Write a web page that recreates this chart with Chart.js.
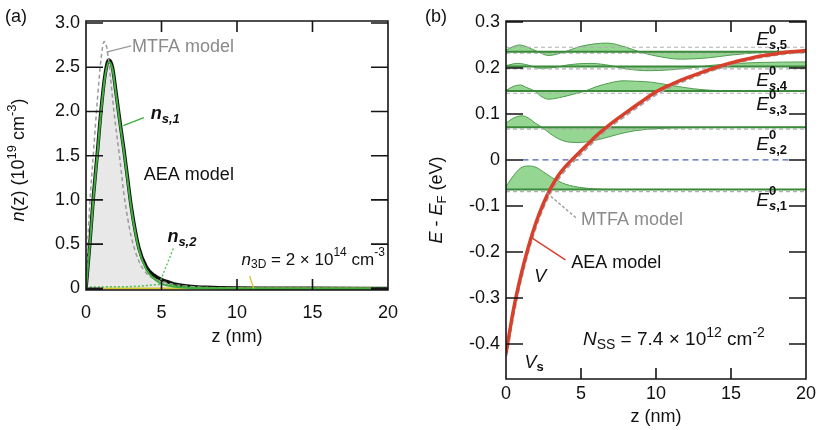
<!DOCTYPE html>
<html>
<head>
<meta charset="utf-8">
<script src="https://cdn.jsdelivr.net/npm/chart.js@4.4.1/dist/chart.umd.min.js"></script>
<style>
  html, body { margin: 0; padding: 0; background: #fff; }
  #wrap { position: relative; width: 820px; height: 430px; overflow: hidden; }
  canvas { position: absolute; top: 0; }
  #chartA { left: 0; }
  #chartB { left: 410px; }
</style>
</head>
<body>
<div id="wrap">
  <canvas id="chartA" width="410" height="430"></canvas>
  <canvas id="chartB" width="410" height="430"></canvas>
</div>
<script>
// ---- panel (a): electron density n(z), 10^19 cm^-3
const zA = [0, 0.25, 0.5, 0.75, 1, 1.25, 1.5, 1.75, 2, 2.25, 2.5, 2.75, 3, 3.5, 4, 4.5, 5, 5.5, 6, 7, 8, 10, 12, 15, 20];
const nAEA = [0, 0.5, 1.06, 1.53, 2.02, 2.4, 2.58, 2.5, 2.2, 1.88, 1.58, 1.25, 0.92, 0.46, 0.24, 0.15, 0.1, 0.07, 0.045, 0.022, 0.012, 0.004, 0.002, 0.001, 0];
const nS1 = [0, 0.49, 1.04, 1.51, 2.0, 2.38, 2.56, 2.48, 2.18, 1.86, 1.56, 1.23, 0.9, 0.44, 0.21, 0.11, 0.055, 0.03, 0.015, 0.005, 0.002, 0, 0, 0, 0];
const nS2 = [0, 0.012, 0.015, 0.015, 0.016, 0.017, 0.018, 0.018, 0.019, 0.019, 0.02, 0.02, 0.021, 0.025, 0.032, 0.04, 0.046, 0.042, 0.032, 0.017, 0.01, 0.003, 0.001, 0, 0];
const zMTFA = [0, 0.1, 0.25, 0.5, 0.75, 1, 1.2, 1.4, 1.6, 1.85, 2.25, 2.5, 2.75, 3, 3.5, 4, 4.5, 5, 6, 7, 8, 10, 12, 15, 20];
const nMTFA = [0, 0.45, 0.95, 1.55, 2.12, 2.6, 2.79, 2.7, 2.42, 2.0, 1.45, 1.08, 0.8, 0.58, 0.31, 0.17, 0.11, 0.08, 0.04, 0.02, 0.01, 0.004, 0.002, 0.001, 0];
const zN3D = [1.1, 18.9];
const n3D = [0.00002, 0.00002];   // 2e14 cm^-3 in units of 1e19
const xTicks = [0, 5, 10, 15, 20];
const yTicksA = [0, 0.5, 1.0, 1.5, 2.0, 2.5, 3.0];

// ---- panel (b): potential and subband levels, eV
const zV = [0, 0.5, 1, 1.5, 2, 2.5, 3, 3.5, 4, 4.5, 5, 5.5, 6, 7, 8, 9, 10, 11, 12, 13, 14, 15, 16, 17, 18, 19, 20];
const vAEA = [-0.42, -0.325, -0.25, -0.188, -0.136, -0.094, -0.06, -0.033, -0.013, 0.004, 0.02, 0.036, 0.052, 0.079, 0.103, 0.126, 0.148, 0.164, 0.178, 0.19, 0.201, 0.211, 0.219, 0.226, 0.231, 0.235, 0.238];
const vMTFA = [-0.426, -0.332, -0.257, -0.195, -0.143, -0.101, -0.067, -0.04, -0.019, -0.002, 0.014, 0.03, 0.046, 0.074, 0.098, 0.121, 0.143, 0.16, 0.174, 0.187, 0.198, 0.208, 0.217, 0.224, 0.229, 0.233, 0.236];
const levelsAEA = [-0.064, 0.071, 0.15, 0.203, 0.235];
const levelsMTFA = [-0.069, 0.067, 0.145, 0.198, 0.232, 0.245];
const fermiZ = [1.1, 18.9];
// wave functions, offset from their level
const zW1 = [0, 0.5, 1, 1.56, 2, 2.5, 3, 3.5, 4, 5, 6, 7, 20];
const w1 = [0.006, 0.03, 0.047, 0.051, 0.048, 0.038, 0.027, 0.018, 0.011, 0.004, 0.001, 0, 0];
const zW2 = [0, 0.5, 1.08, 1.5, 2, 2.4, 3, 3.5, 4, 4.8, 5.5, 6.5, 7.5, 8.5, 10, 12, 20];
const w2 = [0.009, 0.02, 0.025, 0.02, 0.008, 0, -0.015, -0.025, -0.031, -0.033, -0.031, -0.024, -0.015, -0.008, -0.003, -0.001, 0];
const zW3 = [0, 0.5, 0.95, 1.4, 1.9, 2.4, 2.86, 3.5, 4.5, 5.3, 6, 7, 7.8, 8.7, 9.7, 11, 12, 13, 14, 16, 20];
const w3 = [0.001, 0.01, 0.013, 0.007, 0, -0.013, -0.018, -0.015, -0.007, 0, 0.009, 0.018, 0.022, 0.021, 0.019, 0.012, 0.007, 0.003, 0.001, 0, 0];
const zW4 = [0, 0.8, 1.5, 2.3, 3.2, 4.2, 5.6, 7, 8, 9.5, 11, 12.5, 13.5, 15, 17, 20];
const w4 = [0.002, 0.007, 0.003, -0.004, -0.002, 0.004, 0.007, 0.002, -0.005, -0.009, -0.007, -0.002, 0.002, 0.006, 0.009, 0.01];
const zW5 = [0, 0.9, 1.8, 2.86, 3.9, 5, 6.75, 8, 8.9, 10, 11.7, 13.5, 15, 16.8, 18, 20];
const w5 = [0.004, 0.015, 0.005, -0.008, 0, 0.012, 0.019, 0.01, 0, -0.009, -0.016, -0.013, -0.007, -0.002, 0, 0];
const yTicksB = [-0.4, -0.3, -0.2, -0.1, 0, 0.1, 0.2, 0.3];

const FONT = "'Liberation Sans', Arial, Helvetica, sans-serif";
const FS = 18;
const INK = '#151515';
const pts = (xs, ys) => xs.map((x, i) => ({ x: x, y: ys[i] }));

function fontOf(p) { return (p.st || '') + ' ' + (p.sz || FS) + 'px ' + FONT; }
function richWidth(ctx, parts) {
  let w = 0;
  parts.forEach(p => { ctx.font = fontOf(p); if (!p.w0) w += ctx.measureText(p.t).width; });
  return w;
}
function drawRich(ctx, x, y, parts, color) {
  ctx.textBaseline = 'middle';
  ctx.textAlign = 'left';
  let cx = x;
  parts.forEach(p => {
    ctx.font = fontOf(p);
    ctx.fillStyle = p.c || color;
    ctx.fillText(p.t, cx, y + (p.dy || 0));
    if (!p.w0) cx += ctx.measureText(p.t).width;
  });
}
const sub = (t, st, sz) => ({ t: t, sz: sz || 13, dy: 5, st: st || '' });
const sup = (t, st, sz) => ({ t: t, sz: sz || 13, dy: -7, st: st || '' });
const eLabel = k => [{ t: 'E', st: 'italic', sz: 19 }, { t: '0', st: 'bold', sz: 13, dy: -9, w0: true },
  { t: 's', st: 'italic bold', sz: 13, dy: 6 }, { t: ',' + k, st: 'bold', sz: 13, dy: 6 }];

// box round the plot area with inward ticks on all four sides
function boxPlugin(cfg) {
  return {
    id: 'box',
    afterDatasetsDraw(chart) {
      const ctx = chart.ctx, sx = chart.scales.x, sy = chart.scales.y;
      const L = sx.left, R = sx.right, T = sy.top, B = sy.bottom;
      ctx.save();
      ctx.setLineDash([]);
      ctx.strokeStyle = INK;
      ctx.lineWidth = 1.6;
      ctx.beginPath();
      ctx.moveTo(L, T); ctx.lineTo(R, T); ctx.lineTo(R, B); ctx.lineTo(L, B); ctx.closePath();
      cfg.xTicks.slice(1, -1).forEach(v => {
        const px = sx.getPixelForValue(v);
        ctx.moveTo(px, B); ctx.lineTo(px, B - 11);
        ctx.moveTo(px, T); ctx.lineTo(px, T + 11);
      });
      cfg.yTicks.forEach(v => {
        const py = sy.getPixelForValue(v);
        ctx.moveTo(L, py); ctx.lineTo(L + 17, py);
        ctx.moveTo(R, py); ctx.lineTo(R - 17, py);
      });
      ctx.stroke();
      ctx.restore();
    }
  };
}

// titles and labels
function decor(cfg) {
  return {
    id: 'decor',
    afterDraw(chart) {
      const ctx = chart.ctx, a = chart.chartArea, sx = chart.scales.x, sy = chart.scales.y;
      ctx.save();
      cfg.leaders.forEach(l => {
        ctx.beginPath();
        ctx.strokeStyle = l.color;
        ctx.lineWidth = l.width || 1.3;
        ctx.setLineDash(l.dash || []);
        ctx.moveTo(sx.getPixelForValue(l.from[0]), sy.getPixelForValue(l.from[1]));
        ctx.lineTo(sx.getPixelForValue(l.to[0]), sy.getPixelForValue(l.to[1]));
        ctx.stroke();
      });
      ctx.setLineDash([]);

      cfg.labels.forEach(l => {
        drawRich(ctx, sx.getPixelForValue(l.z), sy.getPixelForValue(l.v), l.parts, l.color || '#111');
      });

      const xt = [{ t: 'z (nm)' }];
      drawRich(ctx, (a.left + a.right) / 2 - richWidth(ctx, xt) / 2, cfg.xTitleY, xt, '#111');
      ctx.save();
      ctx.translate(cfg.yTitle.x, cfg.yTitle.y);
      ctx.rotate(-Math.PI / 2);
      drawRich(ctx, -richWidth(ctx, cfg.yTitle.parts) / 2, 0, cfg.yTitle.parts, '#111');
      ctx.restore();
      drawRich(ctx, cfg.tag.x, cfg.tag.y, [{ t: cfg.tag.t }], '#111');
      ctx.restore();
    }
  };
}

function axisOpts(min, max, ticks, fmt, size, pad) {
  return {
    type: 'linear', min: min, max: max,
    grid: { display: false, drawTicks: false },
    border: { display: false },
    ticks: { color: '#111', font: { family: FONT, size: FS }, padding: pad, autoSkip: false, maxRotation: 0, callback: fmt },
    afterBuildTicks: s => { s.ticks = ticks.map(v => ({ value: v })); },
    afterFit: s => { if (s.isHorizontal()) s.height = size; else s.width = size; }
  };
}
const fmtX = v => String(v);
const fmtY = v => (v === 0 ? '0' : v.toFixed(1));

const baseOpts = {
  responsive: false,
  devicePixelRatio: 1,
  animation: false,
  plugins: { legend: { display: false }, tooltip: { enabled: false } },
  elements: { point: { radius: 0 }, line: { cubicInterpolationMode: 'monotone' } }
};

// ---- chart (a)
new Chart(document.getElementById('chartA').getContext('2d'), {
  type: 'line',
  data: {
    datasets: [
      { data: pts(zA, nS1), borderColor: '#3fae3f', borderWidth: 2, order: 0 },
      { data: pts(zA, nS2), borderColor: '#4cc04c', borderWidth: 1.5, borderDash: [2, 2], order: 1 },
      { data: pts(zN3D, n3D), borderColor: '#d8c630', borderWidth: 2, order: 1.5 },
      { data: pts(zMTFA, nMTFA), borderColor: '#9a9a9a', borderWidth: 1.5, borderDash: [4, 3], order: 2 },
      { data: pts(zA, nAEA), borderColor: '#111', borderWidth: 3.5, fill: 'origin', backgroundColor: '#e8e8e8', order: 3 }
    ]
  },
  options: Object.assign({}, baseOpts, {
    layout: { padding: { left: 0, right: 16, top: 21, bottom: 0 } },
    scales: {
      x: axisOpts(0, 20, xTicks, fmtX, 140, 12),
      y: axisOpts(-0.018, 3.022, yTicksA, fmtY, 86, 6)
    }
  }),
  plugins: [boxPlugin({ xTicks: xTicks, yTicks: yTicksA }), decor({
    xTitleY: 337,
    yTitle: { x: 19, y: 160, parts: [{ t: 'n', st: 'italic' }, { t: '(z) (10' }, sup('19'), { t: ' cm' }, sup('-3'), { t: ')' }] },
    tag: { t: '(a)', x: 5, y: 17 },
    leaders: [
      { from: [1.36, 2.67], to: [2.99, 2.74], color: '#999' },
      { from: [2.47, 1.84], to: [3.83, 1.93], color: '#3fae3f', width: 1.5 },
      { from: [5.78, 0.45], to: [4.8, 0.03], color: '#4cc04c', dash: [2, 2] },
      { from: [10.84, 0.14], to: [11.1, 0.0], color: '#d8c630' }
    ],
    labels: [
      { z: 3.05, v: 2.73, parts: [{ t: 'MTFA model' }], color: '#8a8a8a' },
      { z: 4.29, v: 1.97, parts: [{ t: 'n', st: 'italic bold' }, sub('s,1', 'italic bold')] },
      { z: 3.83, v: 1.28, parts: [{ t: 'AEA model' }] },
      { z: 5.39, v: 0.58, parts: [{ t: 'n', st: 'italic bold' }, sub('s,2', 'italic bold')] },
      { z: 10.3, v: 0.32, parts: [{ t: 'n', st: 'italic', sz: 17 }, sub('3D', '', 12), { t: ' = 2 \u00d7 10', sz: 17 }, sup('14', '', 12), { t: ' cm', sz: 17 }, sup('-3', '', 12)] }
    ]
  })]
});

// ---- chart (b)
const waveSets = [[zW1, w1], [zW2, w2], [zW3, w3], [zW4, w4], [zW5, w5]].map((w, i) => ({
  data: pts(w[0], w[1].map(d => levelsAEA[i] + d)),
  borderColor: '#4f9d4f', borderWidth: 1,
  fill: { value: levelsAEA[i] }, backgroundColor: 'rgba(110,198,105,0.72)', order: 6
}));
const levelSets = levelsAEA.map(L => ({ data: pts([0, 20], [L, L]), borderColor: '#3b8a3b', borderWidth: 2, order: 3 }));
const mtfaLevelSets = levelsMTFA.map(L => ({ data: pts([0, 20], [L, L]), borderColor: '#b0b0b0', borderWidth: 1.2, borderDash: [4, 3], order: 4 }));

new Chart(document.getElementById('chartB').getContext('2d'), {
  type: 'line',
  data: {
    datasets: [
      { data: pts(zV, vAEA), borderColor: '#d9402b', borderWidth: 3.5, order: 0 },
      { data: pts(zV, vMTFA), borderColor: '#a8a8a8', borderWidth: 3, borderDash: [5, 3], order: 1 },
      { data: pts(fermiZ, [0, 0]), borderColor: '#4a63b0', borderWidth: 1.3, borderDash: [6, 4], order: 2 }
    ].concat(levelSets, mtfaLevelSets, waveSets)
  },
  options: Object.assign({}, baseOpts, {
    layout: { padding: { left: 0, right: 6, top: 21, bottom: 0 } },
    scales: {
      x: axisOpts(0, 20, xTicks, fmtX, 51, 4),
      y: axisOpts(-0.476, 0.302, yTicksB, fmtY, 96, 6)
    }
  }),
  plugins: [boxPlugin({ xTicks: xTicks, yTicks: yTicksB }), decor({
    xTitleY: 417,
    yTitle: { x: 27, y: 200, parts: [{ t: 'E', st: 'italic' }, { t: ' - ' }, { t: 'E', st: 'italic' }, sub('F'), { t: ' (eV)' }] },
    tag: { t: '(b)', x: 15, y: 17 },
    leaders: [
      { from: [2.73, -0.072], to: [4.68, -0.126], color: '#999', dash: [3, 2] },
      { from: [1.75, -0.17], to: [3.96, -0.217], color: '#d9402b', width: 1.5 }
    ],
    labels: [
      { z: 16.69, v: 0.261, parts: eLabel(5) },
      { z: 16.69, v: 0.172, parts: eLabel(4) },
      { z: 16.69, v: 0.12, parts: eLabel(3) },
      { z: 16.69, v: 0.033, parts: eLabel(2) },
      { z: 16.69, v: -0.089, parts: eLabel(1) },
      { z: 5.0, v: -0.13, parts: [{ t: 'MTFA model' }], color: '#8a8a8a' },
      { z: 4.35, v: -0.224, parts: [{ t: 'AEA model' }] },
      { z: 1.88, v: -0.254, parts: [{ t: 'V', st: 'italic' }] },
      { z: 1.23, v: -0.441, parts: [{ t: 'V', st: 'italic' }, sub('s', 'bold')] },
      { z: 5.13, v: -0.391, parts: [{ t: 'N', st: 'italic', sz: 19 }, sub('SS', '', 14), { t: ' = 7.4 \u00d7 10', sz: 19 }, sup('12', '', 14), { t: ' cm', sz: 19 }, sup('-2', '', 14)] }
    ]
  })]
});
</script>
</body>
</html>
